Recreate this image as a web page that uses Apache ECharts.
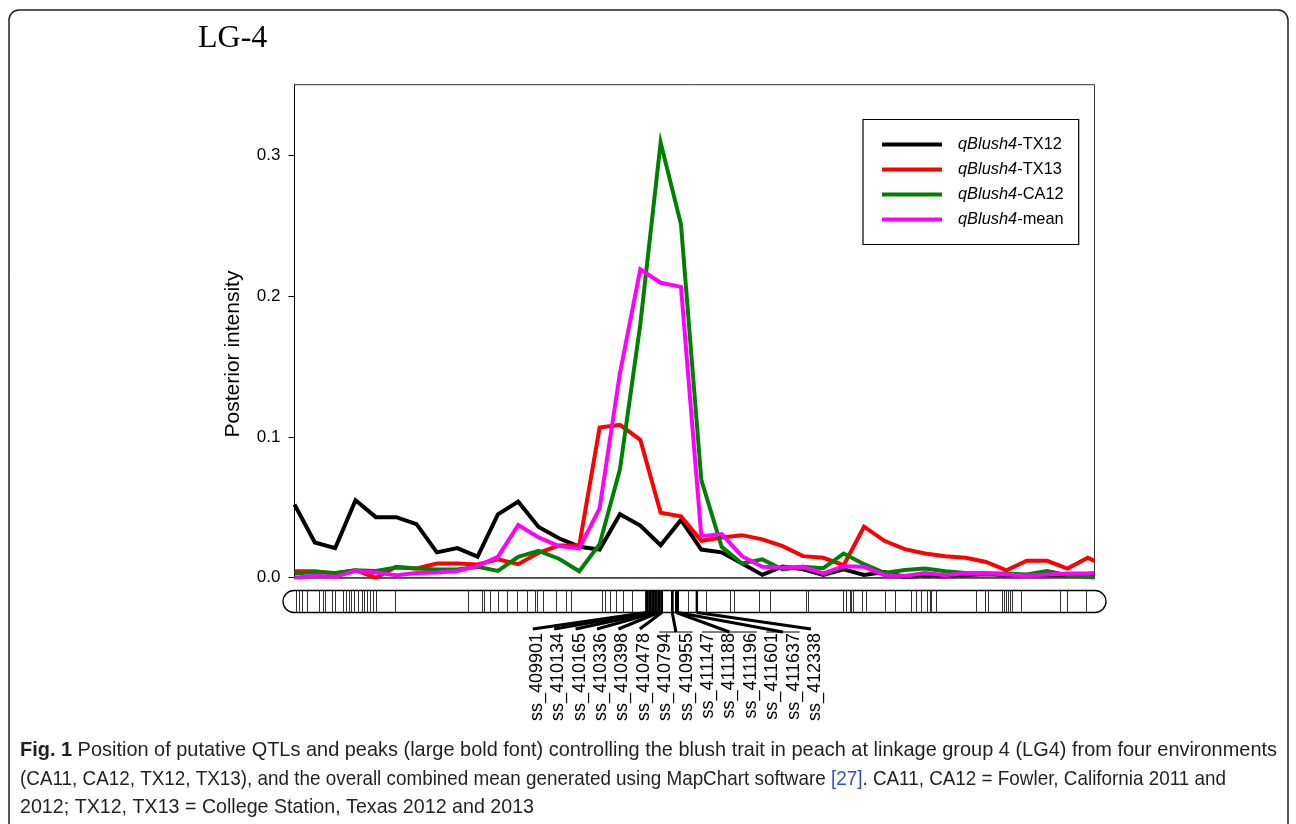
<!DOCTYPE html>
<html><head><meta charset="utf-8">
<script src="https://cdn.jsdelivr.net/npm/echarts@6/dist/echarts.min.js"></script>
<style>html,body{margin:0;padding:0;background:#fff}#c{width:1296px;height:824px}</style>
</head><body><div id="c"></div>
<script>
// ---------------- DATA ----------------
const positions = [0,1,2,3,4,5,6,7,8,9,10,11,12,13,14,15,16,17,18,19,20,21,22,23,24,25,26,27,28,29,30,31,32,33,34,35,36,37,38,39,39.33];
const seriesNames = ['qBlush4-TX12','qBlush4-TX13','qBlush4-CA12','qBlush4-mean'];
const tx12 = [0.052,0.025,0.021,0.055,0.043,0.043,0.038,0.018,0.021,0.015,0.045,0.054,0.036,0.028,0.022,0.020,0.045,0.037,0.023,0.041,0.020,0.018,0.010,0.002,0.008,0.006,0.002,0.006,0.002,0.004,0.0005,0.0015,0.001,0.002,0.0025,0.002,0.002,0.002,0.002,0.002,0.002];
const tx13 = [0.0046,0.0046,0.003,0.0053,0.0,0.0077,0.0065,0.010,0.010,0.0094,0.013,0.0096,0.0177,0.0228,0.023,0.1066,0.1085,0.0979,0.0461,0.0436,0.0262,0.0286,0.0302,0.0272,0.0224,0.0153,0.0141,0.0089,0.0362,0.0262,0.0203,0.0172,0.0153,0.0141,0.0112,0.0053,0.012,0.012,0.0065,0.0141,0.012];
const ca12 = [0.003,0.004,0.0034,0.0053,0.0048,0.0072,0.0065,0.0058,0.0058,0.0077,0.0048,0.0148,0.019,0.0135,0.0046,0.0238,0.077,0.1797,0.309,0.2509,0.0694,0.0219,0.0101,0.013,0.0058,0.0077,0.0068,0.0172,0.0096,0.0034,0.0055,0.0065,0.0046,0.0034,0.003,0.003,0.0023,0.0048,0.0018,0.0006,0.0];
const meanV = [0.0,0.0013,0.0006,0.0048,0.0037,0.0018,0.0034,0.0037,0.0048,0.0082,0.0148,0.0374,0.0286,0.0224,0.0208,0.0492,0.1453,0.2189,0.2094,0.2065,0.0295,0.031,0.0153,0.0077,0.0072,0.0077,0.003,0.0082,0.0077,0.0018,0.0013,0.0034,0.0018,0.0034,0.0034,0.0023,0.0013,0.0023,0.003,0.003,0.0034];
const yTicks = [0, 0.1, 0.2, 0.3];
const yMax = 0.35;
const threshold = 0.0013;
const lgLength = 39.33;
const markerPositions = [0.06,0.22,0.38,0.60,1.22,1.39,1.51,1.83,1.99,2.40,2.52,2.68,2.78,2.92,3.11,3.30,3.42,3.58,3.71,3.87,4.00,4.94,8.54,9.20,9.31,9.61,10.01,10.43,10.92,11.44,11.82,11.93,12.23,12.84,13.34,13.57,15.10,15.26,15.50,15.80,16.16,16.57,17.25,17.40,17.54,17.69,17.84,17.99,19.35,20.22,21.43,21.61,22.83,23.37,25.17,25.25,26.97,27.10,27.30,27.38,27.46,27.92,28.12,29.02,29.51,30.33,30.53,30.82,31.10,31.23,31.31,31.56,33.49,33.94,34.09,34.77,34.86,34.96,35.06,35.16,35.26,35.70,37.62,37.99,38.93];
const labeledMarkers = ['ss_409901','ss_410134','ss_410165','ss_410336','ss_410398','ss_410478','ss_410794','ss_410955','ss_411147','ss_411188','ss_411196','ss_411601','ss_411637','ss_412338'];
const labeledPositions = [17.32,17.47,17.62,17.76,17.91,18.06,18.57,18.57,18.77,18.77,18.77,18.84,18.84,19.78];
const captionLines = [
  ['Fig. 1', ' Position of putative QTLs and peaks (large bold font) controlling the blush trait in peach at linkage group 4 (LG4) from four environments'],
  ['', '(CA11, CA12, TX12, TX13), and the overall combined mean generated using MapChart software {l|[27]}. CA11, CA12 = Fowler, California 2011 and'],
  ['', '2012; TX12, TX13 = College Station, Texas 2012 and 2013']
];

// ---------------- STYLE / LAYOUT ----------------
const FONT = '"Liberation Sans", Arial, Helvetica, sans-serif';
const colors = ['#000000','#ff0000','#008000','#ff00ff'];
const seriesValues = [tx12, tx13, ca12, meanV];
const LABEL_OFFSET = -110, LABEL_STEP = 21.4;
const CAP_SIZE = 21, CAP_X = 20, CAP_W = [1257, 1206, 514], CAP_Y = [750, 779, 807];

function measure(txt, font) {
  const c = document.createElement('canvas').getContext('2d');
  c.font = font; return c.measureText(txt).width;
}
const capScales = captionLines.map((ln, k) => {
  const w = (ln[0] ? measure(ln[0], 'bold ' + CAP_SIZE + 'px "Liberation Sans"') : 0) +
            measure(ln[1].replace(/\{l\|([^}]*)\}/, '$1'), CAP_SIZE + 'px "Liberation Sans"');
  return CAP_W[k] / w;
});

const chart = echarts.init(document.getElementById('c'), null, {renderer:'canvas'});

const lineSeries = seriesNames.map((n,k)=>({
  name:n, type:'line', xAxisIndex:0, yAxisIndex:0,
  data: seriesValues[k].map((v,i)=>[positions[i], v]),
  showSymbol:false, symbol:'none', color: colors[k], itemStyle:{color:colors[k]},
  lineStyle:{color:colors[k], width:4, join:'miter', miterLimit:10},
  z: 3 + k, animation:false, clip:true, silent:true
}));

const captionGraphics = captionLines.map((ln, k)=>({
  type:'text', silent:true, x:CAP_X, y:CAP_Y[k], scaleX:capScales[k],
  style:{text:(ln[0] ? '{b|' + ln[0] + '}' : '') + ln[1], fontSize:CAP_SIZE, fontFamily:'"Liberation Sans", sans-serif',
    fill:'#231f20', verticalAlign:'middle',
    rich:{b:{fontWeight:'bold', fontSize:CAP_SIZE, fontFamily:'"Liberation Sans", sans-serif', fill:'#231f20'},
          l:{fontSize:CAP_SIZE, fontFamily:'"Liberation Sans", sans-serif', fill:'#2f4fd8'}}}
}));

const option = {
  backgroundColor:'#fff',
  animation:false,
  grid:[
    {left:294.5, top:84.7, width:800, height:493, show:true, borderColor:'#333', borderWidth:1, containLabel:false},
    {left:294.5, top:590.5, width:800, height:22, show:false}
  ],
  xAxis:[
    {type:'value', gridIndex:0, min:0, max:lgLength, axisLine:{show:true, lineStyle:{color:'#444', width:1.5}}, axisTick:{show:false}, axisLabel:{show:false}, splitLine:{show:false}},
    {type:'value', gridIndex:1, min:0, max:lgLength, show:false}
  ],
  yAxis:[
    {type:'value', gridIndex:0, min:0, max:yMax, interval:0.1,
     axisLine:{show:true, lineStyle:{color:'#000', width:1}},
     axisTick:{show:true, inside:false, length:6, customValues:yTicks, lineStyle:{color:'#000', width:1}},
     axisLabel:{show:true, customValues:yTicks, margin:14, color:'#000', fontSize:17, fontFamily:FONT, formatter:(v)=>v.toFixed(1)},
     splitLine:{show:false}},
    {type:'value', gridIndex:1, min:0, max:1, show:false}
  ],
  legend:{
    data:seriesNames, orient:'vertical', left:863, top:119.5,
    itemWidth:60, itemHeight:4, itemGap:7, icon:'rect', selectedMode:false,
    borderColor:'#000', borderWidth:1.2, padding:[16,15,16,19], backgroundColor:'#fff',
    formatter:(n)=>'{i|qBlush4}{n|' + n.slice(7) + '}',
    textStyle:{color:'#000', fontSize:16.4, fontFamily:FONT, lineHeight:18, padding:[0,0,0,11],
      rich:{i:{fontStyle:'italic', fontSize:16.4, fontFamily:FONT, color:'#000', lineHeight:18},
            n:{fontSize:16.4, fontFamily:FONT, color:'#000', lineHeight:18}}}
  },
  series:[
    {type:'line', name:'threshold', xAxisIndex:0, yAxisIndex:0, data:[], z:1, silent:true,
     markLine:{symbol:'none', silent:true, label:{show:false}, animation:false,
       lineStyle:{color:'#444', width:1, type:[5,3,1,3]}, data:[{yAxis:threshold}]}},
    ...lineSeries,
    {type:'custom', xAxisIndex:1, yAxisIndex:1, data:[[0, lgLength]], silent:true, z:1,
     renderItem:(params, api)=>{
       const a = api.coord([api.value(0), 0]);
       const b = api.coord([api.value(1), 1]);
       const r = (a[1]-b[1])/2;
       return {type:'rect', shape:{x:a[0]-r-0.5, y:b[1], width:b[0]-a[0]+2*r+1, height:a[1]-b[1], r:r},
               style:{fill:'#fff', stroke:'#000', lineWidth:1.3}};
     }},
    {type:'custom', xAxisIndex:1, yAxisIndex:1, data:markerPositions.map(p=>[p]), silent:true, z:2,
     renderItem:(params, api)=>{
       const t = api.coord([api.value(0), 1]); const b = api.coord([api.value(0), 0]);
       const x = Math.round(t[0]) + 0.5;
       return {type:'line', shape:{x1:x, y1:t[1], x2:x, y2:b[1]}, style:{stroke:'#333', lineWidth:1}};
     }},
    {type:'custom', xAxisIndex:1, yAxisIndex:1, data:labeledPositions.map(p=>[p]), silent:true, z:3,
     renderItem:(params, api)=>{
       const t = api.coord([api.value(0), 1]); const b = api.coord([api.value(0), 0]);
       return {type:'line', shape:{x1:t[0], y1:t[1], x2:t[0], y2:b[1]}, style:{stroke:'#000', lineWidth:2.4}};
     }},
    {type:'custom', xAxisIndex:1, yAxisIndex:1, data:[[0]], silent:true, z:3, clip:false,
     renderItem:(params, api)=>{
       const children = [];
       const barBottom = api.coord([0,0])[1];
       const x0 = api.coord([labeledPositions[0],0])[0] + LABEL_OFFSET;
       const lx = labeledMarkers.map((_,i)=> x0 + i*LABEL_STEP);
       let i = 0;
       while (i < labeledMarkers.length) {
         let j = i;
         while (j+1 < labeledMarkers.length && labeledPositions[j+1] === labeledPositions[i]) j++;
         const mx = api.coord([labeledPositions[i],0])[0];
         if (j === i) {
           children.push({type:'line', shape:{x1:mx, y1:barBottom, x2:lx[i]-4, y2:barBottom+16.5}, style:{stroke:'#000', lineWidth:3}});
         } else {
           const bx1 = lx[i]-6, bx2 = lx[j]+6, by = barBottom+19.5;
           const cx = (bx1+bx2)/2;
           children.push({type:'line', shape:{x1:mx, y1:barBottom, x2:cx, y2:by}, style:{stroke:'#000', lineWidth:3}});
           children.push({type:'line', shape:{x1:bx1, y1:by, x2:bx2, y2:by}, style:{stroke:'#000', lineWidth:1}});
         }
         i = j + 1;
       }
       labeledMarkers.forEach((t,k)=>children.push({type:'text', x:lx[k], y:barBottom+20.5, rotation:Math.PI/2,
         style:{text:t, x:0, y:0, align:'right', verticalAlign:'middle', fontSize:18, fontFamily:FONT, fill:'#000'}}));
       return {type:'group', children};
     }}
  ],
  graphic:[
    {type:'rect', silent:true, z:-1, shape:{x:9, y:10, width:1279, height:840, r:10}, style:{fill:'none', stroke:'#231f20', lineWidth:1.5}},
    {type:'text', silent:true, x:198, y:39, style:{text:'LG-4', fontSize:32, fontFamily:'"Liberation Serif", "Times New Roman", serif', fill:'#000', verticalAlign:'middle'}},
    {type:'text', silent:true, x:233, y:354, rotation:Math.PI/2, style:{text:'Posterior intensity', fontSize:21, fontFamily:FONT, fill:'#000', align:'center', verticalAlign:'middle'}},
    ...captionGraphics
  ]
};
chart.setOption(option);
</script>
</body></html>
